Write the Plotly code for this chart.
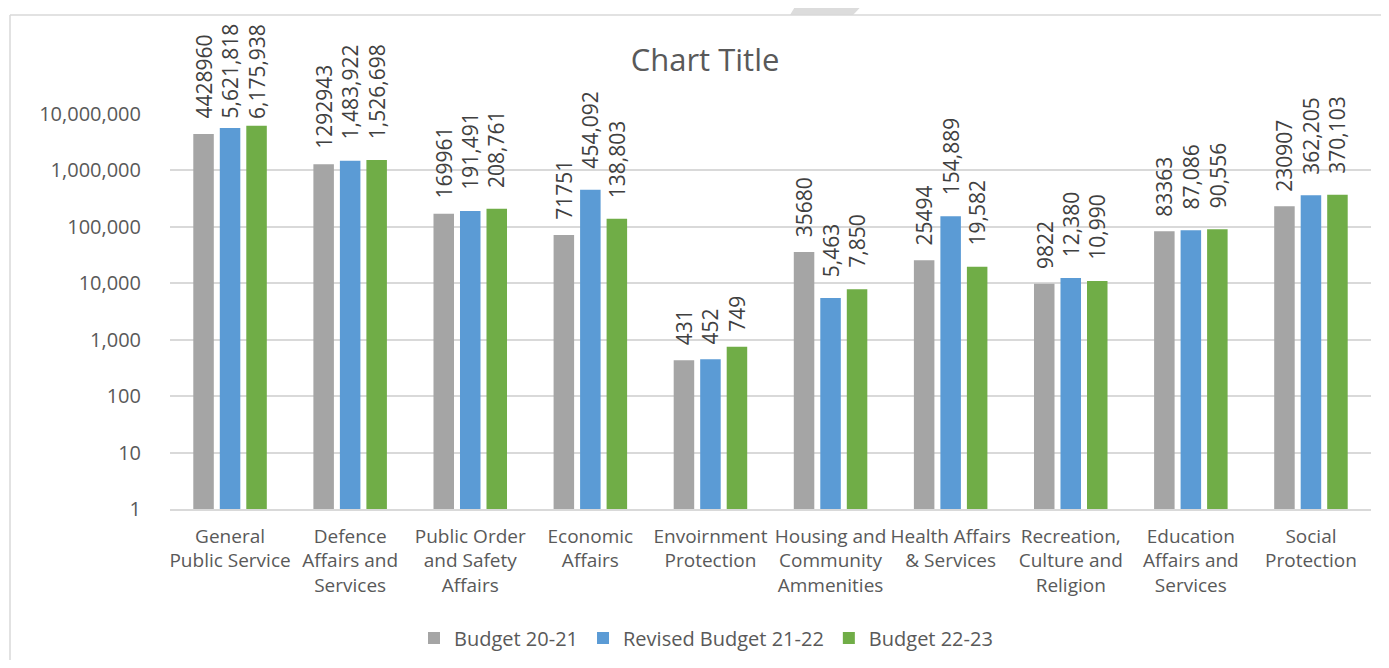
import math
import plotly.graph_objects as go

categories = ["General Public Service", "Defence Affairs and Services", "Public Order and Safety Affairs",
              "Economic Affairs", "Envoirnment Protection", "Housing and Community Ammenities",
              "Health Affairs & Services", "Recreation, Culture and Religion",
              "Education Affairs and Services", "Social Protection"]
category_ticktext = ["General<br>Public Service", "Defence<br>Affairs and<br>Services",
                     "Public Order<br>and Safety<br>Affairs", "Economic<br>Affairs",
                     "Envoirnment<br>Protection", "Housing and<br>Community<br>Ammenities",
                     "Health Affairs<br>& Services", "Recreation,<br>Culture and<br>Religion",
                     "Education<br>Affairs and<br>Services", "Social<br>Protection"]
budget_20_21 = [4428960, 1292943, 169961, 71751, 431, 35680, 25494, 9822, 83363, 230907]
revised_21_22 = [5621818, 1483922, 191491, 454092, 452, 5463, 154889, 12380, 87086, 362205]
budget_22_23 = [6175938, 1526698, 208761, 138803, 749, 7850, 19582, 10990, 90556, 370103]
series_names = ["Budget 20-21", "Revised Budget 21-22", "Budget 22-23"]
y_tickvals = [1, 10, 100, 1000, 10000, 100000, 1000000, 10000000]
y_ticktext = ["1", "10", "100", "1,000", "10,000", "100,000", "1,000,000", "10,000,000"]

colors = ["#A5A5A5", "#5B9BD5", "#70AD47"]
FONT = "Open Sans"
OFF = 8                      # page body margin
W, H = 1389 - 2 * OFF, 668 - 2 * OFF
ML, MT = 170 - OFF, 114 - OFF
PW, PH = 1201, 395
MR = W - ML - PW
MB = H - MT - PH
BARGAP = 0.338
BARGROUPGAP = 0.226
LABEL_SIZE = 21


def px_x(px):  # page px -> paper
    return (px - OFF - ML) / PW


def px_y(py):
    return (MT + PH - (py - OFF)) / PH


fig = go.Figure()
all_series = [budget_20_21, revised_21_22, budget_22_23]
label_fmt = [lambda v: str(v), lambda v: f"{v:,}", lambda v: f"{v:,}"]

for i, (name, vals) in enumerate(zip(series_names, all_series)):
    fig.add_trace(go.Bar(
        name=name, x=categories, y=vals,
        marker=dict(color=colors[i], line=dict(width=0)),
    ))

# data labels (rotated) as annotations, kept inside the chart frame
slot = PW / len(categories) * (1 - BARGAP) / 3
decade = PH / 7
annotations = []
for i, vals in enumerate(all_series):
    for c, v in zip(categories, vals):
        txt = label_fmt[i](v)
        ys = 19 if "," in txt else 13
        n_d = sum(ch.isdigit() for ch in txt)
        n_c = txt.count(",")
        length = LABEL_SIZE * (0.572 * n_d + 0.26 * n_c)
        bar_top = 509 - math.log10(v) * decade
        top = bar_top - ys - 3 - length
        if top < 23:
            ys -= (23 - top)
        annotations.append(dict(
            x=c, y=math.log10(v), xref="x", yref="y", text=txt, textangle=-90,
            showarrow=False, xanchor="center", yanchor="bottom",
            xshift=(i - 1) * slot, yshift=ys,
            font=dict(family=FONT, size=LABEL_SIZE, color="#404040"),
        ))

shapes = [
    dict(type="path", xref="paper", yref="paper",
         path=f"M {px_x(802)} {px_y(-5)} L {px_x(872)} {px_y(-5)} L {px_x(853)} {px_y(15)} L {px_x(790)} {px_y(15)} Z",
         fillcolor="#DCDCDC", line=dict(width=0)),
    dict(type="line", xref="paper", yref="paper", x0=px_x(10), x1=px_x(1395), y0=px_y(15), y1=px_y(15),
         line=dict(color="#D9D9D9", width=1.5)),
    dict(type="line", xref="paper", yref="paper", x0=px_x(10), x1=px_x(10), y0=px_y(15), y1=px_y(680),
         line=dict(color="#D9D9D9", width=1.5)),
]

fig.update_layout(
    width=W, height=H,
    margin=dict(l=ML, r=MR, t=MT, b=MB, autoexpand=False),
    paper_bgcolor="white", plot_bgcolor="white",
    barmode="group", bargap=BARGAP, bargroupgap=BARGROUPGAP,
    font=dict(family=FONT, color="#595959"),
    title=dict(text="Chart Title", x=(705 - OFF) / W, xref="container", xanchor="center",
               y=1 - (60 - OFF) / H, yref="container", yanchor="middle",
               font=dict(family=FONT, size=31, color="#595959")),
    legend=dict(orientation="h", xref="container", x=(706 - OFF) / W, xanchor="center",
                yref="container", y=1 - (638 - OFF) / H, yanchor="middle", itemwidth=30,
                font=dict(family=FONT, size=20, color="#595959"), traceorder="normal"),
    xaxis=dict(tickmode="array", tickvals=categories, ticktext=category_ticktext,
               tickfont=dict(family=FONT, size=19, color="#595959"),
               showline=True, linecolor="#D9D9D9", linewidth=1.5, showgrid=False,
               ticks="", ticklabelstandoff=9),
    yaxis=dict(type="log", range=[0, 7], tickmode="array", tickvals=y_tickvals, ticktext=y_ticktext,
               tickfont=dict(family=FONT, size=20, color="#595959"),
               showgrid=True, gridcolor="#D9D9D9", gridwidth=1.5, zeroline=False,
               showline=False, ticks="", ticklabelstandoff=28),
    annotations=annotations,
    shapes=shapes,
)

fig.write_html("out.html")
